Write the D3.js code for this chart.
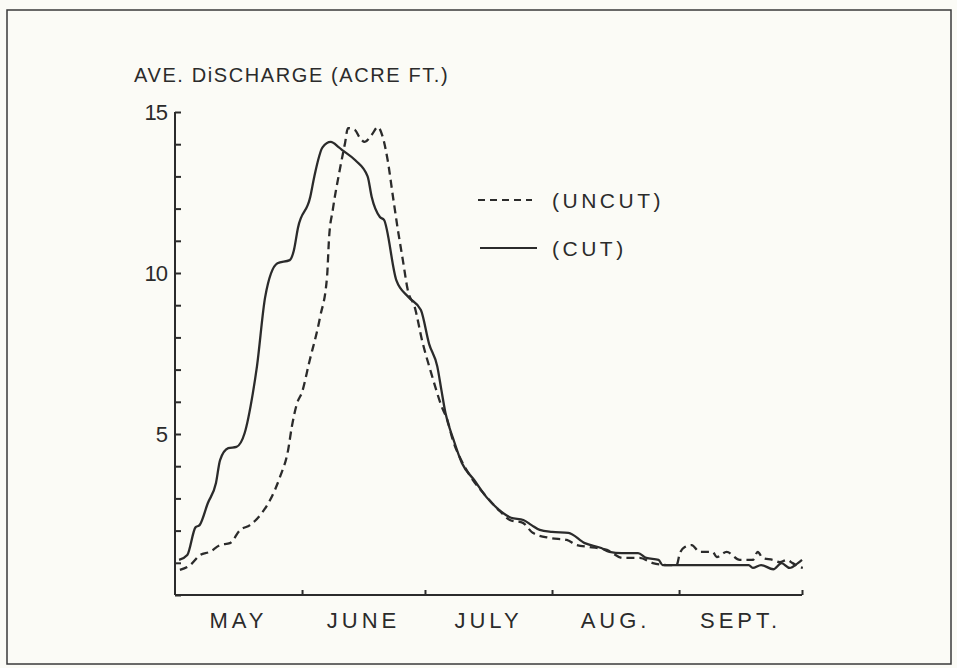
<!DOCTYPE html>
<html>
<head>
<meta charset="utf-8">
<script src="https://cdn.jsdelivr.net/npm/d3@7"></script>
<style>
  html, body { margin: 0; padding: 0; background: #fbfbf6; }
  svg text { font-family: "Liberation Sans", Arial, sans-serif; fill: #2b2b2b; }
</style>
</head>
<body>
<div id="visualization"><svg width="957" height="668"></svg></div>
<script>
// days after May 1
const cutDays = [1, 3, 5, 6, 8, 10, 11, 13, 15, 17, 19, 20, 22, 25, 28, 29, 30, 33, 34, 36, 38, 40, 41, 44, 47, 48, 50, 51, 54, 57, 60, 62, 64, 65, 66, 68, 70, 73, 76, 79, 82, 85, 87, 89, 92, 96, 100, 104, 106, 109, 113, 115, 118, 119, 121, 128, 140, 141, 143, 146, 148, 150, 152, 153];
const cutFlow = [1.09, 1.24, 2.1, 2.17, 2.85, 3.48, 4.19, 4.56, 4.6, 5.03, 6.27, 7.1, 9.25, 10.3, 10.4, 10.7, 11.4, 12.36, 13.0, 13.9, 14.07, 13.9, 13.8, 13.5, 13.0, 12.36, 11.74, 11.65, 9.78, 9.25, 8.85, 7.8, 7.1, 6.37, 5.65, 4.81, 4.1, 3.57, 3.04, 2.65, 2.4, 2.33, 2.17, 2.02, 1.96, 1.93, 1.61, 1.46, 1.34, 1.3, 1.3, 1.15, 1.09, 0.93, 0.93, 0.93, 0.93, 0.84, 0.93, 0.8, 0.99, 0.84, 0.99, 1.09];

const uncutDays = [1.2, 3.7, 6.1, 8.5, 11.0, 13.4, 15.9, 18.3, 21.2, 23.2, 25.6, 27.6, 28.5, 29.8, 31.0, 32.7, 35.4, 37.1, 37.6, 38.5, 40.2, 41.5, 42.2, 43.9, 45.1, 46.3, 48.0, 49.5, 50.7, 51.9, 53.2, 54.4, 55.6, 56.8, 58.5, 60.3, 62.5, 65.4, 66.3, 67.8, 70.2, 72.7, 76.1, 79.3, 81.7, 84.9, 87.3, 91.5, 95.6, 98.0, 101.2, 105.4, 109.3, 113.4, 116.6, 120.0, 122.4, 123.2, 124.4, 126.1, 128.0, 131.2, 132.2, 134.6, 137.8, 141.0, 142.2, 143.4, 145.9, 147.6, 149.3, 150.7, 152.4, 153.2];
const uncutFlow = [0.78, 0.93, 1.24, 1.34, 1.55, 1.61, 2.02, 2.17, 2.55, 2.95, 3.66, 4.5, 5.22, 5.96, 6.3, 7.2, 8.63, 9.88, 11.1, 11.96, 13.2, 14.04, 14.5, 14.44, 14.2, 14.07, 14.29, 14.53, 14.22, 13.5, 12.36, 11.33, 10.4, 9.47, 8.94, 7.9, 6.9, 5.75, 5.5, 4.81, 4.1, 3.57, 3.04, 2.6, 2.33, 2.24, 1.93, 1.77, 1.71, 1.55, 1.49, 1.4, 1.15, 1.15, 0.99, 0.93, 0.93, 1.3, 1.49, 1.55, 1.34, 1.34, 1.18, 1.34, 1.09, 1.09, 1.34, 1.15, 1.09, 1.02, 1.09, 0.99, 0.87, 0.84];

const monthStarts = ["1950-05-01", "1950-06-01", "1950-07-01", "1950-08-01", "1950-09-01", "1950-10-01"];
const monthLabels = ["MAY", "JUNE", "JULY", "AUG.", "SEPT."];
const yLabelTicks = [5, 10, 15];

document.addEventListener("DOMContentLoaded", function () {
  const ink = "#2b2b2b";
  const svg = d3.select("#visualization svg");
  const parse = d3.timeParse("%Y-%m-%d");
  const months = monthStarts.map(parse);
  const start = months[0];
  const dayToDate = d => new Date(+start + d * 864e5);

  const x = d3.scaleTime().domain([months[0], months[months.length - 1]]).range([175, 802]);
  const y = d3.scaleLinear().domain([0, 15]).range([595, 112]);

  // outer frame
  svg.append("rect")
    .attr("x", 7).attr("y", 10)
    .attr("width", 944).attr("height", 654)
    .attr("fill", "none")
    .attr("stroke", "#3a3a3a")
    .attr("stroke-width", 1.5);

  // title
  svg.append("text")
    .attr("x", 134).attr("y", 82)
    .attr("font-size", 20)
    .attr("letter-spacing", 1.6)
    .text("AVE. DiSCHARGE (ACRE FT.)");

  // y axis, ticks pointing inward
  const yAxis = d3.axisRight(y)
    .tickValues(d3.range(0, 16))
    .tickSize(6)
    .tickFormat("");
  const gy = svg.append("g").attr("transform", "translate(175,0)").call(yAxis);
  gy.select(".domain").attr("d", `M0,${y(0)}V${y(15)}`);
  gy.selectAll("path, line").attr("stroke", ink).attr("stroke-width", 2);

  svg.selectAll(".y-label")
    .data(yLabelTicks)
    .enter()
    .append("text")
    .attr("class", "y-label")
    .attr("x", 167)
    .attr("y", d => y(d))
    .attr("dy", "0.36em")
    .attr("text-anchor", "end")
    .attr("font-size", 22)
    .attr("letter-spacing", -1)
    .text(d => d);

  // x axis, small ticks upward at month boundaries
  const xAxis = d3.axisTop(x)
    .tickValues(months.slice(1))
    .tickSize(5)
    .tickFormat("");
  const gx = svg.append("g").attr("transform", `translate(0,${y(0)})`).call(xAxis);
  gx.select(".domain").attr("d", `M${x.range()[0]},0H${x.range()[1]}`);
  gx.selectAll("path, line").attr("stroke", ink).attr("stroke-width", 2);

  svg.selectAll(".month-label")
    .data(monthLabels)
    .enter()
    .append("text")
    .attr("class", "month-label")
    .attr("x", (d, i) => (x(months[i]) + x(months[i + 1])) / 2)
    .attr("y", 628)
    .attr("text-anchor", "middle")
    .attr("font-size", 22)
    .attr("letter-spacing", 4)
    .text(d => d);

  const line = d3.line()
    .x(d => x(dayToDate(d[0])))
    .y(d => y(d[1]))
    .curve(d3.curveMonotoneX);

  const uncut = uncutDays.map((d, i) => [d, uncutFlow[i]]);
  const cut = cutDays.map((d, i) => [d, cutFlow[i]]);

  svg.append("path")
    .datum(uncut)
    .attr("d", line)
    .attr("fill", "none")
    .attr("stroke", ink)
    .attr("stroke-width", 2.3)
    .attr("stroke-dasharray", "8,5");

  svg.append("path")
    .datum(cut)
    .attr("d", line)
    .attr("fill", "none")
    .attr("stroke", ink)
    .attr("stroke-width", 2.3);

  // legend
  const legend = [
    { label: "(UNCUT)", dash: "7,5", y: 200, x1: 478, x2: 532 },
    { label: "(CUT)", dash: null, y: 248, x1: 480, x2: 537 }
  ];
  legend.forEach(l => {
    svg.append("line")
      .attr("x1", l.x1).attr("x2", l.x2)
      .attr("y1", l.y).attr("y2", l.y)
      .attr("stroke", ink)
      .attr("stroke-width", 2)
      .attr("stroke-dasharray", l.dash);
    svg.append("text")
      .attr("x", 552)
      .attr("y", l.y)
      .attr("dy", "0.36em")
      .attr("font-size", 21)
      .attr("letter-spacing", 3.5)
      .text(l.label);
  });
});
</script>
</body>
</html>
